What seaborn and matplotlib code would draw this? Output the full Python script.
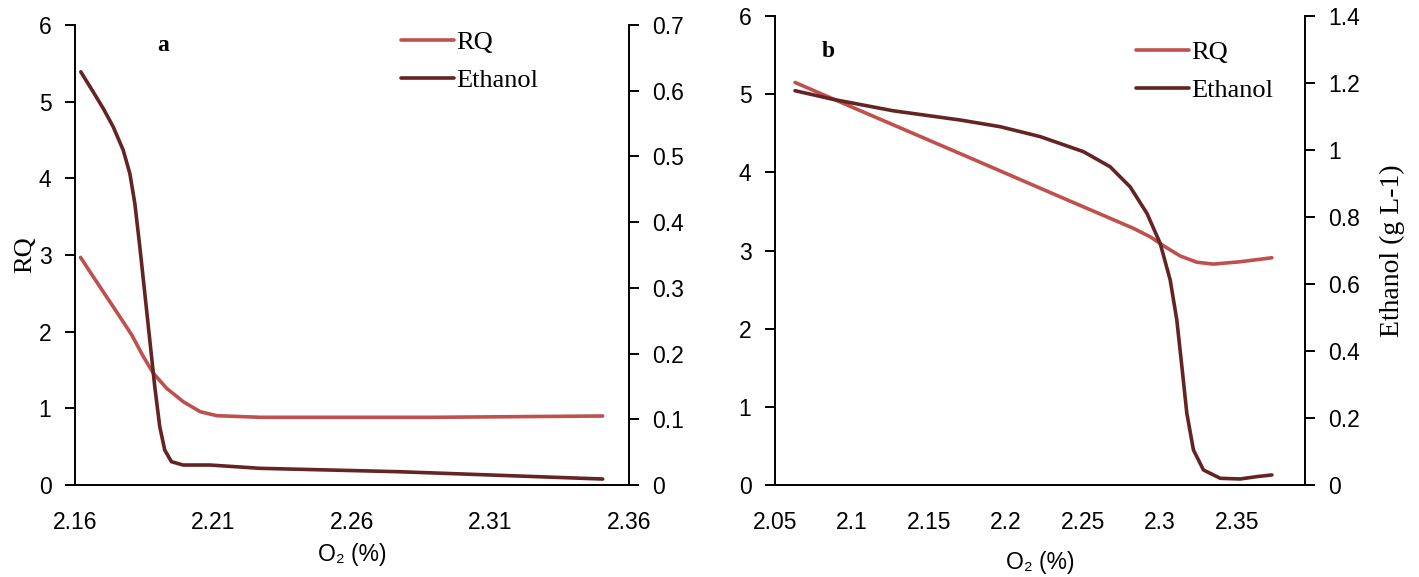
import numpy as np
import pandas as pd
import matplotlib
matplotlib.use("Agg")
import matplotlib.pyplot as plt
import seaborn as sns

# ---- Panel a data ----
a_rq_x = [2.162, 2.1666, 2.1714, 2.1762, 2.1805, 2.1847, 2.1883, 2.1931, 2.1991, 2.2052,
          2.2112, 2.2269, 2.2895, 2.3505]
a_rq_y = [2.969, 2.716, 2.455, 2.194, 1.956, 1.673, 1.456, 1.261, 1.086, 0.956,
          0.904, 0.883, 0.883, 0.900]
a_eth_x = [2.1621, 2.1666, 2.1702, 2.1738, 2.1774, 2.1798, 2.1816, 2.1834, 2.1852, 2.1870,
           2.1888, 2.1906, 2.1924, 2.1948, 2.1990, 2.2087, 2.2267, 2.2771, 2.3505]
a_eth_y = [0.6287, 0.598, 0.573, 0.545, 0.5096, 0.474, 0.4285, 0.3625, 0.2916, 0.2205,
           0.1495, 0.0887, 0.0532, 0.0355, 0.0304, 0.0304, 0.0254, 0.0202, 0.0091]

# ---- Panel b data ----
b_rq_x = [2.063, 2.1052, 2.1701, 2.2394, 2.2827, 2.2940, 2.3022, 2.3130, 2.3238, 2.3346,
          2.3519, 2.3725]
b_rq_y = [5.150, 4.790, 4.240, 3.650, 3.283, 3.170, 3.060, 2.930, 2.850, 2.826,
          2.856, 2.907]
b_eth_x = [2.063, 2.0879, 2.1268, 2.1701, 2.1961, 2.2221, 2.2502, 2.2675, 2.2805, 2.2914,
           2.3000, 2.3065, 2.3108, 2.3141, 2.3173, 2.3216, 2.3281, 2.3390, 2.3519, 2.3627,
           2.3725]
b_eth_y = [1.177, 1.151, 1.117, 1.0896, 1.0696, 1.040, 0.995, 0.950, 0.890, 0.811,
           0.7214, 0.612, 0.4925, 0.353, 0.214, 0.1045, 0.0448, 0.020, 0.018, 0.025,
           0.030]

a_xticks = [2.16, 2.21, 2.26, 2.31, 2.36]
b_xticks = [2.05, 2.1, 2.15, 2.2, 2.25, 2.3, 2.35]
rq_ticks = [0, 1, 2, 3, 4, 5, 6]
a_eth_ticks = [0, 0.1, 0.2, 0.3, 0.4, 0.5, 0.6, 0.7]
b_eth_ticks = [0, 0.2, 0.4, 0.6, 0.8, 1, 1.2, 1.4]

sns.set_style("white")
SANS = ['Liberation Sans Narrow', 'Liberation Sans', 'DejaVu Sans']
SERIF = ['Liberation Serif', 'DejaVu Serif']
plt.rcParams['font.family'] = SANS
plt.rcParams['text.color'] = 'black'
plt.rcParams['axes.labelcolor'] = 'black'
plt.rcParams['xtick.color'] = 'black'
plt.rcParams['ytick.color'] = 'black'

RQ_C = "#C0504D"
ETH_C = "#632423"
FS = 16.5
SFS = 19

fig = plt.figure(figsize=(14.19, 5.77), dpi=100)
W, H = 1419, 577


def px_axes(l, r, t, b):
    return fig.add_axes([l / W, 1 - b / H, (r - l) / W, (b - t) / H])


def fmt(v):
    return f"{v:g}"


def style(ax, ax2, xticks, xlim, eth_ticks, eth_max):
    ax.set_xlim(*xlim)
    ax.set_ylim(0, 6)
    ax2.set_ylim(0, eth_max)
    ax.set_xticks(xticks)
    ax.set_xticklabels([fmt(v) for v in xticks])
    ax.set_yticks(rq_ticks)
    ax.set_yticklabels([fmt(v) for v in rq_ticks])
    ax2.set_yticks(eth_ticks)
    ax2.set_yticklabels([fmt(v) for v in eth_ticks])
    for a in (ax, ax2):
        for s in a.spines.values():
            s.set_color("black")
            s.set_linewidth(1.4)
        a.spines['top'].set_visible(False)
    ax.spines['right'].set_visible(False)
    ax2.spines['left'].set_visible(False)
    ax2.spines['bottom'].set_visible(False)
    ax.tick_params(axis='x', length=0, pad=19, labelsize=FS, colors='black')
    ax.tick_params(axis='y', left=True, length=7, width=1.4, direction='out', pad=10,
                   labelsize=FS, colors='black')
    ax2.tick_params(axis='y', right=True, length=7, width=1.4, direction='out', pad=10,
                    labelsize=FS, colors='black')
    ax.grid(False)
    ax2.grid(False)


# ---- Panel a ----
ax_a = px_axes(75, 629, 25, 485)
ax_a2 = ax_a.twinx()
sns.lineplot(x=a_rq_x, y=a_rq_y, ax=ax_a, color=RQ_C, lw=2.6, sort=False, label="RQ", legend=False)
sns.lineplot(x=a_eth_x, y=a_eth_y, ax=ax_a2, color=ETH_C, lw=2.6, sort=False, label="Ethanol", legend=False)
style(ax_a, ax_a2, a_xticks, (2.16, 2.36), a_eth_ticks, 0.7)
ax_a.set_ylabel("RQ", fontsize=SFS, family=SERIF, labelpad=2)
ax_a.set_xlabel("O₂ (%)", fontsize=FS, labelpad=6)
ax_a.text(0.159, 0.955, "a", transform=ax_a.transAxes, fontsize=17, fontweight='bold',
          family=SERIF, ha='center', va='center')

# ---- Panel b ----
ax_b = px_axes(775, 1305, 16, 485)
ax_b2 = ax_b.twinx()
sns.lineplot(x=b_rq_x, y=b_rq_y, ax=ax_b, color=RQ_C, lw=2.6, sort=False, label="RQ", legend=False)
sns.lineplot(x=b_eth_x, y=b_eth_y, ax=ax_b2, color=ETH_C, lw=2.6, sort=False, label="Ethanol", legend=False)
style(ax_b, ax_b2, b_xticks, (2.05, 2.394), b_eth_ticks, 1.4)
ax_b2.set_ylabel("Ethanol (g L-1)", fontsize=20, family=SERIF, labelpad=14)
ax_b.set_xlabel("O₂ (%)", fontsize=FS, labelpad=12)
ax_b.text(0.1, 0.925, "b", transform=ax_b.transAxes, fontsize=17, fontweight='bold',
          family=SERIF, ha='center', va='center')

# legends
for ax, ax2, anchor in ((ax_a, ax_a2, (401 / W, 1 - 31 / H)), (ax_b, ax_b2, (1136 / W, 1 - 41 / H))):
    h1, l1 = ax.get_legend_handles_labels()
    h2, l2 = ax2.get_legend_handles_labels()
    fig.legend(h1 + h2, l1 + l2, loc='upper left', bbox_to_anchor=anchor,
               frameon=False, prop={'family': SERIF, 'size': SFS},
               handlelength=2.0, handletextpad=0.08, labelspacing=0.55,
               borderpad=0, borderaxespad=0)

fig.savefig("out.png", dpi=100)
